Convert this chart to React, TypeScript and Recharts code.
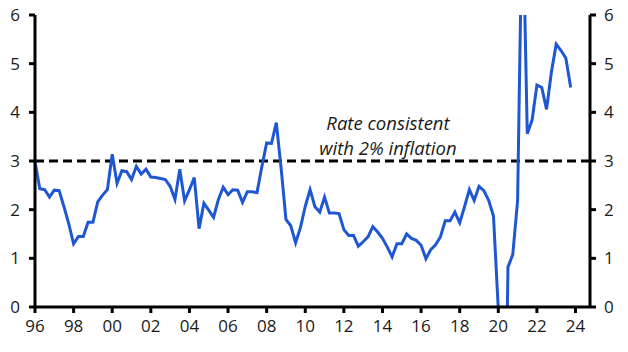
import React from 'react';
import { LineChart, Line, XAxis, YAxis, ReferenceLine } from 'recharts';

// quarterly values, 1996Q1 .. 2023Q4
const years = [
  1996, 1997, 1998, 1999, 2000, 2001, 2002, 2003, 2004, 2005, 2006, 2007, 2008, 2009,
  2010, 2011, 2012, 2013, 2014, 2015, 2016, 2017, 2018, 2019, 2020, 2021, 2022, 2023,
];
const values = [
  2.98, 2.43, 2.41, 2.26,
  2.4, 2.39, 2.06, 1.71,
  1.3, 1.45, 1.45, 1.74,
  1.74, 2.16, 2.3, 2.41,
  3.14, 2.54, 2.8, 2.78,
  2.62, 2.89, 2.73, 2.83,
  2.67, 2.66, 2.64, 2.62,
  2.48, 2.21, 2.83, 2.18,
  2.41, 2.66, 1.61, 2.13,
  1.99, 1.84, 2.21, 2.46,
  2.31, 2.41, 2.4, 2.15,
  2.37, 2.37, 2.35, 2.88,
  3.37, 3.36, 3.79, 2.85,
  1.8, 1.67, 1.32, 1.63,
  2.07, 2.41, 2.06, 1.95,
  2.26, 1.93, 1.93, 1.92,
  1.59, 1.47, 1.47, 1.25,
  1.34, 1.44, 1.65, 1.54,
  1.41, 1.23, 1.03, 1.3,
  1.3, 1.5, 1.41, 1.37,
  1.27, 0.99, 1.18, 1.28,
  1.44, 1.77, 1.77, 1.95,
  1.73, 2.06, 2.41, 2.19,
  2.48, 2.39, 2.19, 1.87,
  -0.05, -6, 0.82, 1.08,
  2.19, 8.5, 3.56, 3.84,
  4.56, 4.51, 4.06, 4.83,
  5.4, 5.27, 5.11, 4.51,
];
const xTicks = [1996, 1998, 2000, 2002, 2004, 2006, 2008, 2010, 2012, 2014, 2016, 2018, 2020, 2022, 2024];
const yTicks = [0, 1, 2, 3, 4, 5, 6];
const targetRate = 3;
const noteLines = ['Rate consistent', 'with 2% inflation'];

const data = values.map((v, i) => ({
  t: years[Math.floor(i / 4)] + (i % 4) / 4,
  v,
}));

const FONT = '"Open Sans", sans-serif';
const tickStyle = { fontSize: 17, fill: '#1a1a1a', fontFamily: FONT };

const NoteLabel = (props: any) => {
  const vb = props.viewBox || {};
  const cx = vb.x + vb.width * 0.636;
  return (
    <g>
      <text x={cx} y={vb.y - 31} textAnchor="middle" fontStyle="italic" fontSize={18.5} fill="#1a1a1a" fontFamily={FONT}>
        {noteLines[0]}
      </text>
      <text x={cx} y={vb.y - 6} textAnchor="middle" fontStyle="italic" fontSize={18.5} fill="#1a1a1a" fontFamily={FONT}>
        {noteLines[1]}
      </text>
    </g>
  );
};

export default function App() {
  return (
    <div style={{ margin: -8, width: 628, height: 352, background: '#fff' }}>
      <LineChart
        width={628}
        height={352}
        data={data}
        margin={{ top: 15, right: 0, bottom: 0, left: 0 }}
        style={{ fontFamily: FONT }}
      >
        <XAxis
          dataKey="t"
          type="number"
          domain={[1996, 2024.75]}
          ticks={xTicks}
          tickFormatter={(v: number) => String(v % 100).padStart(2, '0')}
          height={45}
          axisLine={{ stroke: '#000', strokeWidth: 3 }}
          tickLine={{ stroke: '#000', strokeWidth: 3 }}
          tickSize={6}
          tickMargin={7}
          tick={tickStyle}
          interval={0}
        />
        <YAxis
          yAxisId="left"
          domain={[0, 6]}
          ticks={yTicks}
          allowDataOverflow
          width={35}
          axisLine={{ stroke: '#000', strokeWidth: 3 }}
          tickLine={{ stroke: '#000', strokeWidth: 3 }}
          tickSize={6}
          tickMargin={9}
          tick={tickStyle}
          interval={0}
        />
        <YAxis
          yAxisId="right"
          orientation="right"
          domain={[0, 6]}
          ticks={yTicks}
          allowDataOverflow
          width={38}
          axisLine={{ stroke: '#000', strokeWidth: 3 }}
          tickLine={{ stroke: '#000', strokeWidth: 3 }}
          tickSize={6}
          tickMargin={8}
          tick={tickStyle}
          interval={0}
        />
        <ReferenceLine
          yAxisId="left"
          y={targetRate}
          stroke="#000"
          strokeWidth={3}
          strokeDasharray="9 5"
          label={<NoteLabel />}
        />
        <Line
          yAxisId="left"
          type="linear"
          dataKey="v"
          stroke="#1f57d2"
          strokeWidth={3}
          dot={false}
          isAnimationActive={false}
        />
      </LineChart>
    </div>
  );
}
